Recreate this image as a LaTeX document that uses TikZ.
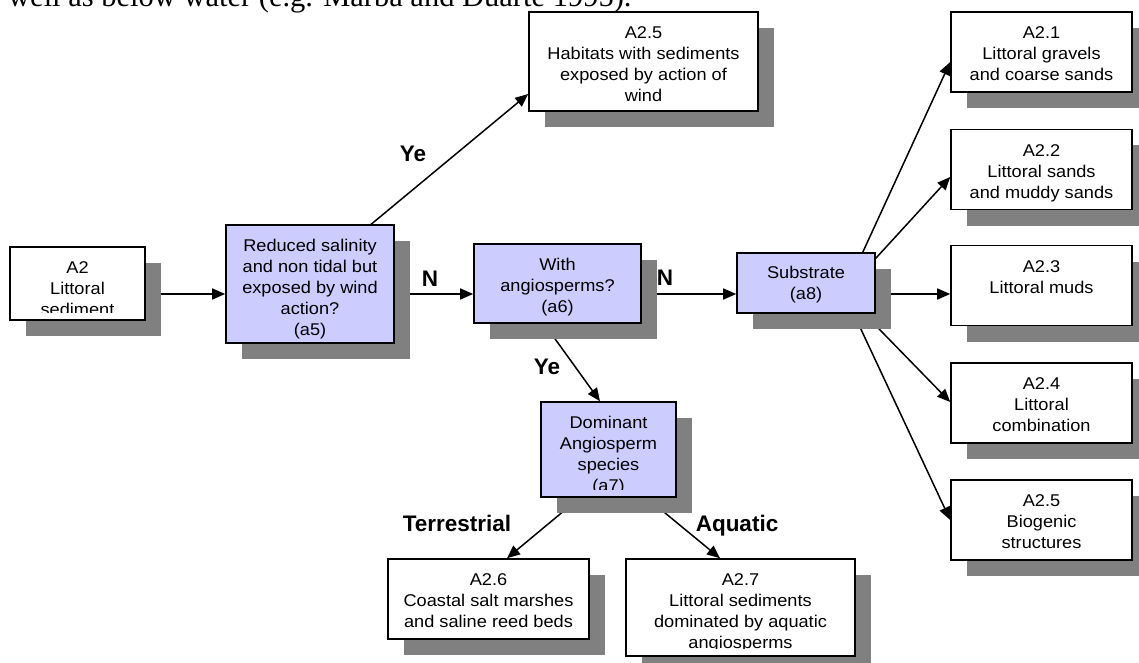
\documentclass[tikz,border=0pt]{standalone}
\usepackage{fontspec}
\newfontfamily\boxfont[FakeStretch=1.07]{Liberation Sans}
\newfontfamily\lblfont{Liberation Sans}
\newfontfamily\serfont{Liberation Serif}
\usetikzlibrary{arrows.meta,shadows,backgrounds,calc}
\definecolor{qfill}{HTML}{CCCCFF}
\definecolor{shgray}{HTML}{808080}
\tikzset{
  box/.style={draw=black, line width=1.6pt, fill=white, inner sep=0pt,
    drop shadow={shadow xshift=16pt, shadow yshift=-16pt, fill=shgray, opacity=1}},
  qbox/.style={box, fill=qfill},
  rbox/.style={box, minimum width=181pt, minimum height=80pt},
  txt/.style={anchor=north, inner sep=0pt, align=center, font=\boxfont\fontsize{17}{21}\selectfont},
  lbl/.style={anchor=base, inner sep=0pt, font=\lblfont\bfseries\fontsize{22.5}{27}\selectfont},
  arr/.style={line width=1.5pt, -{Triangle[length=13pt,width=11pt]}}
}
\begin{document}
\begin{tikzpicture}[x=1pt,y=-1pt]
\useasboundingbox (0,0) rectangle (1139,663);
% top text (cut off at the top edge, as in the reference)
\node[anchor=base west, inner sep=0pt, font=\serfont\fontsize{30.5}{36}\selectfont] (toptext) at (8,7) {well as below water (e.g. Marba and Duarte 1995).};

% boxes
\node[box, minimum width=135pt, minimum height=73pt] (A2) at (77.5,283.5) {};
\node[qbox, minimum width=168pt, minimum height=118pt] (a5) at (310,284) {};
\node[qbox, minimum width=167pt, minimum height=79pt] (a6) at (557.5,283.5) {};
\node[qbox, minimum width=138pt, minimum height=60pt] (a8) at (806,283) {};
\node[box, minimum width=229pt, minimum height=99pt] (A25w) at (643.5,61.5) {};
\node[rbox] (A21) at (1041.5,52) {};
\node[rbox] (A22) at (1041.5,169.5) {};
\node[rbox] (A23) at (1041.5,285.5) {};
\node[rbox] (A24) at (1041.5,403) {};
\node[rbox] (A25b) at (1041.5,520) {};
\node[qbox, minimum width=135pt, minimum height=95pt] (a7) at (608.5,449.5) {};
\node[box, minimum width=201pt, minimum height=80pt] (A26) at (488.5,599) {};
\node[box, minimum width=229pt, minimum height=97pt] (A27) at (740.5,607.5) {};

% texts
\begin{scope}
\clip (10,247) rectangle (145,312);
\node[txt] (A2t) at (77.5,258.4) {\strut A2\\Littoral\\sediment};
\end{scope}
\node[txt] (a5t) at (310,236.4) {\strut Reduced salinity\\and non tidal but\\exposed by wind\\action?\\(a5)};
\node[txt] (a6t) at (557.5,255.4) {\strut With\\angiosperms?\\(a6)};
\node[txt] (a8t) at (806,263.4) {\strut Substrate\\(a8)};
\node[txt] (A25wt) at (643.5,23.4) {\strut A2.5\\Habitats with sediments\\exposed by action of\\wind};
\node[txt] (A21t) at (1041.5,23.4) {\strut A2.1\\Littoral gravels\\and coarse sands};
\node[txt] (A22t) at (1041.5,141.4) {\strut A2.2\\Littoral sands\\and muddy sands};
\node[txt] (A23t) at (1041.5,257.4) {\strut A2.3\\Littoral muds};
\node[txt] (A24t) at (1041.5,374.4) {\strut A2.4\\Littoral\\combination};
\node[txt] (A25bt) at (1041.5,491.4) {\strut A2.5\\Biogenic\\structures};
\begin{scope}
\clip (541,402) rectangle (676,489);
\node[txt] (a7t) at (608.5,413.4) {\strut Dominant\\Angiosperm\\species\\(a7)};
\end{scope}
\node[txt] (A26t) at (488.5,570.4) {\strut A2.6\\Coastal salt marshes\\and saline reed beds};
\begin{scope}
\clip (626,559) rectangle (855,648);
\node[txt] (A27t) at (740.5,570.4) {\strut A2.7\\Littoral sediments\\dominated by aquatic\\angiosperms};
\end{scope}

% labels
\node[lbl] (ye1) at (413,161) {Ye};
\node[lbl] (ye2) at (547,374.5) {Ye};
\node[lbl] (n1) at (430,286.5) {N};
\node[lbl] (n2) at (665,285) {N};
\node[lbl] (terr) at (457,531) {Terrestrial};
\node[lbl] (aqua) at (737,531) {Aquatic};

% connectors (behind boxes)
\begin{scope}[on background layer]
\coordinate (hub) at (844,293);
\draw[arr] (A2.center |- 0,294) -- (a5.west |- 0,294);
\draw[arr] (a5.center |- 0,294) -- (a6.west |- 0,294);
\draw[arr] (a6.center |- 0,294) -- (a8.west |- 0,294);
\draw[arr] (a8.center |- 0,294) -- (A23.west |- 0,294);
\draw[arr] (hub) -- (A21.west |- 0,62);
\draw[arr] (hub) -- (A22.west |- 0,177);
\draw[arr] (hub) -- (A24.west |- 0,402);
\draw[arr] (hub) -- (A25b.west |- 0,520);
\draw[arr] ($(a5.center)+(0,-9)$) -- (A25w.west |- 0,94);
\draw[arr] ($(a6.center)+(-30.5,16.5)$) -- (a7.north -| 600,0);
\draw[arr] ($(a7.center)+(-7.5,30.5)$) -- (A26.north -| 507,0);
\draw[arr] ($(a7.center)+(16.5,30.5)$) -- (A27.north -| 720,0);
\end{scope}
\end{tikzpicture}
\end{document}
